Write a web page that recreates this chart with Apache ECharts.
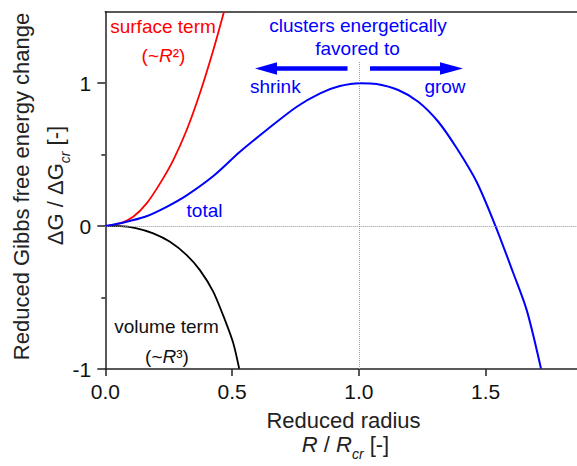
<!DOCTYPE html>
<html><head><meta charset="utf-8">
<script src="https://cdn.jsdelivr.net/npm/echarts@6/dist/echarts.min.js"></script>
<style>html,body{margin:0;padding:0;background:#fff}#c{width:577px;height:466px}</style>
</head><body><div id="c"></div>
<script>
const FONT = "'Liberation Sans', Arial, Helvetica, sans-serif";

// total ΔG/ΔGcr vs R/Rcr
const totalX = [0, 0.058, 0.157, 0.242, 0.321, 0.426, 0.531, 0.636, 0.755, 0.847, 0.925, 1.004, 1.07, 1.155, 1.234, 1.313, 1.386, 1.464, 1.537, 1.609, 1.662, 1.718];
const totalY = [0, 0.02, 0.065, 0.135, 0.215, 0.35, 0.52, 0.672, 0.835, 0.929, 0.98, 1.0, 0.994, 0.952, 0.87, 0.73, 0.544, 0.31, 0.007, -0.33, -0.59, -0.997];
// surface term
const surfX = [0, 0.058, 0.11, 0.163, 0.216, 0.268, 0.321, 0.373, 0.426, 0.468];
const surfY = [0, 0.019, 0.065, 0.159, 0.299, 0.462, 0.672, 0.929, 1.232, 1.50];
// volume term
const volX = [0, 0.058, 0.124, 0.189, 0.255, 0.321, 0.373, 0.426, 0.472, 0.505, 0.528];
const volY = [0, 0, -0.016, -0.051, -0.11, -0.203, -0.308, -0.46, -0.658, -0.821, -0.997];

const xTicks = [0, 0.5, 1.0, 1.5];
const yTicks = [-1, 0, 1];
const yMinorTicks = [-0.5, 0.5];

const zip = (xs, ys) => xs.map((x, i) => [x, ys[i]]);

const chart = echarts.init(document.getElementById('c'), null, {renderer: 'svg'});

const AX = '#222';
function txt(x, y, text, color, size, extra) {
  return Object.assign({
    type: 'text', x: x, y: y, z: 50,
    style: {
      x: 0, y: 0, text: text, fill: color,
      fontSize: size, fontFamily: FONT,
      align: 'center', verticalAlign: 'middle',
      textAlign: 'center', textVerticalAlign: 'middle'
    }
  }, extra || {});
}
function rtxt(x, y, text, color, size, rich, extra) {
  const e = txt(x, y, text, color, size, extra);
  e.style.rich = rich;
  e.style.lineHeight = size + 4;
  return e;
}
const richAnn = (color) => ({
  i: {fontSize: 19, fontFamily: FONT, fontStyle: 'italic', fill: color, lineHeight: 23}
});
const richTitle = {
  n: {fontSize: 22, fontFamily: FONT, fill: AX, lineHeight: 26},
  i: {fontSize: 22, fontFamily: FONT, fontStyle: 'italic', fill: AX, lineHeight: 26},
  sub: {fontSize: 14, fontFamily: FONT, fontStyle: 'italic', fill: AX, lineHeight: 26, padding: [18, 0, 0, 0]}
};

const option = {
  animation: false,
  backgroundColor: '#fff',
  grid: {left: 105.3, right: 0, top: 11.7, bottom: 97, containLabel: false, outerBoundsMode: 'none'},
  xAxis: [{
    type: 'value', min: 0, max: 1.86, interval: 0.5,
    axisLine: {show: true, onZero: false, lineStyle: {color: AX, width: 1.5}},
    axisTick: {show: true, length: 7, inside: false, customValues: xTicks, lineStyle: {color: AX, width: 1.5}},
    axisLabel: {customValues: xTicks, formatter: v => v.toFixed(1), fontSize: 21, fontFamily: FONT, color: '#111', margin: 12},
    splitLine: {show: false}
  }, {
    type: 'value', min: 0, max: 1.86, position: 'top',
    axisLine: {show: true, onZero: false, lineStyle: {color: AX, width: 1.5}},
    axisTick: {show: false}, axisLabel: {show: false}, splitLine: {show: false}
  }],
  yAxis: [{
    type: 'value', min: -1, max: 1.5, interval: 0.5,
    axisLine: {show: true, onZero: false, lineStyle: {color: AX, width: 1.5}},
    axisTick: {show: true, length: 8, customValues: yTicks, lineStyle: {color: AX, width: 1.5}},
    axisLabel: {customValues: yTicks, formatter: v => String(v), fontSize: 21, fontFamily: FONT, color: '#111', margin: 14},
    splitLine: {show: false}
  }, {
    type: 'value', min: -1, max: 1.5, interval: 0.5, position: 'left',
    axisLine: {show: false},
    axisTick: {show: true, length: 4, customValues: yMinorTicks, lineStyle: {color: AX, width: 1.5}},
    axisLabel: {show: false}, splitLine: {show: false}
  }],
  series: [
    {
      type: 'line', name: 'ref', data: [], xAxisIndex: 0, yAxisIndex: 0, z: 1,
      markLine: {
        silent: true, symbol: 'none', label: {show: false},
        lineStyle: {type: 'dotted', color: '#9a9a9a', width: 1},
        data: [
          [{coord: [0, 0]}, {coord: [1.86, 0]}],
          [{coord: [1, -1]}, {coord: [1, 1.15]}]
        ]
      }
    },
    {type: 'line', name: 'surface', data: zip(surfX, surfY), showSymbol: false, smooth: 0.25,
     lineStyle: {color: '#ff0000', width: 1.8}, itemStyle: {color: '#ff0000'}, z: 3},
    {type: 'line', name: 'volume', data: zip(volX, volY), showSymbol: false, smooth: 0.25,
     lineStyle: {color: '#000000', width: 1.8}, itemStyle: {color: '#000'}, z: 3},
    {type: 'line', name: 'total', data: zip(totalX, totalY), showSymbol: false, smooth: 0.3,
     lineStyle: {color: '#0000ff', width: 2}, itemStyle: {color: '#0000ff'}, z: 4}
  ],
  graphic: [
    txt(163, 26.6, 'surface term', '#ff0000', 19),
    rtxt(163.5, 55, '(~{i|R}²)', '#ff0000', 19, richAnn('#ff0000')),
    txt(358, 25, 'clusters energetically', '#0000ff', 19),
    txt(357.5, 48.3, 'favored to', '#0000ff', 19),
    txt(275.3, 86.6, 'shrink', '#0000ff', 19),
    txt(445, 86.6, 'grow', '#0000ff', 19),
    txt(204.5, 210, 'total', '#0000ff', 19),
    txt(166.5, 326.6, 'volume term', '#111', 19),
    rtxt(167, 356.6, '(~{i|R}³)', '#111', 19, richAnn('#111')),
    // arrows
    {type: 'line', z: 40, shape: {x1: 347.5, y1: 68.5, x2: 272, y2: 68.5}, style: {stroke: '#0000ff', lineWidth: 4.6}},
    {type: 'polygon', z: 40, shape: {points: [[255, 68.5], [277, 62.2], [277, 74.8]]}, style: {fill: '#0000ff'}},
    {type: 'line', z: 40, shape: {x1: 370, y1: 68.5, x2: 444, y2: 68.5}, style: {stroke: '#0000ff', lineWidth: 4.6}},
    {type: 'polygon', z: 40, shape: {points: [[463, 68.5], [440, 62.2], [440, 74.8]]}, style: {fill: '#0000ff'}},
    // axis titles
    txt(343.5, 420.3, 'Reduced radius', AX, 22),
    rtxt(345.5, 444.5, '{i|R} / {i|R}{sub|cr} [-]', AX, 22, richTitle),
    txt(21.6, 186.5, 'Reduced Gibbs free energy change', AX, 22, {rotation: Math.PI / 2}),
    rtxt(55.6, 185.5, 'ΔG / ΔG{sub|cr} [-]', AX, 22, richTitle, {rotation: Math.PI / 2})
  ]
};
chart.setOption(option);
</script>
</body></html>
